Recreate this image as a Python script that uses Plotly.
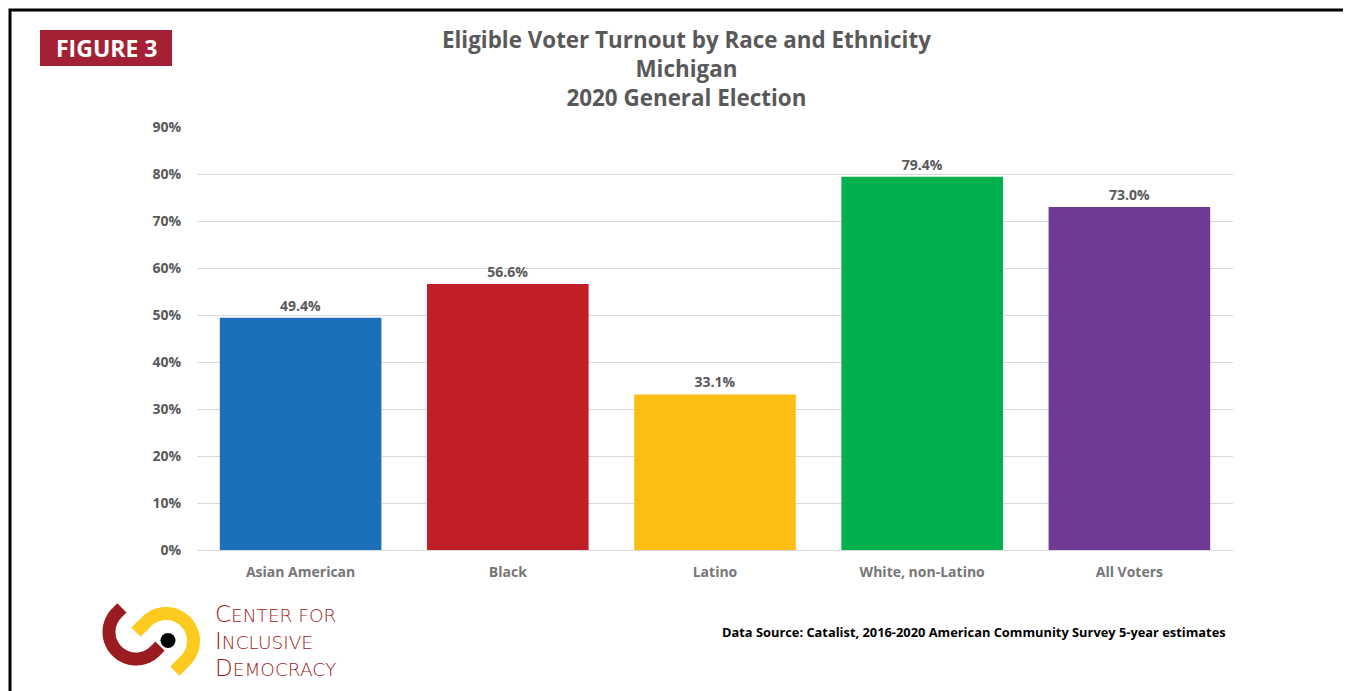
import numpy as np
import plotly.graph_objects as go

categories = ["Asian American", "Black", "Latino", "White, non-Latino", "All Voters"]
turnout = [49.4, 56.6, 33.1, 79.4, 73.0]
bar_colors = ["#1B70B9", "#C01F27", "#FDBE14", "#03B04E", "#6F3996"]
y_ticks = [0, 10, 20, 30, 40, 50, 60, 70, 80, 90]
y_tick_labels = [f"{v}%" for v in y_ticks]

OFF = 8  # default page body margin
W, H = 1351 - OFF, 691 - OFF
# plot area in reference-picture pixels
RL, RR, RT, RB = 197, 1233, 127, 550
L, R, T, B = RL - OFF, RR - OFF, RT - OFF, RB - OFF


def px(x):
    """reference-picture x pixel -> paper coordinate"""
    return (x - OFF - L) / (R - L)


def py(y):
    """reference-picture y pixel -> paper coordinate"""
    return (B - (y - OFF)) / (B - T)


GRAY = "#595959"

fig = go.Figure(go.Bar(
    x=categories, y=turnout,
    marker=dict(color=bar_colors, line=dict(width=0)),
    text=[f"{v:.1f}%" for v in turnout], textposition="outside",
    textfont=dict(family="Open Sans", size=14, color=GRAY, weight="bold"),
    cliponaxis=False, hoverinfo="skip",
))

fig.update_layout(
    width=W, height=H, autosize=False,
    margin=dict(l=L, r=W - R, t=T, b=H - B),
    paper_bgcolor="white", plot_bgcolor="white",
    bargap=0.22, showlegend=False,
    xaxis=dict(showgrid=False, showline=False, ticks="",
               tickfont=dict(family="Open Sans", size=14, color="#767676", weight="bold"),
               ticklabelstandoff=12),
    yaxis=dict(range=[0, 90], tickvals=y_ticks, ticktext=y_tick_labels,
               showgrid=True, gridcolor="#D9D9D9", gridwidth=1,
               zeroline=True, zerolinecolor="#D9D9D9", zerolinewidth=1,
               showline=False, ticks="",
               tickfont=dict(family="Open Sans", size=14, color=GRAY, weight="bold"),
               ticklabelstandoff=15),
)

shapes = []
# outer frame
shapes.append(dict(type="rect", xref="paper", yref="paper",
                   x0=px(10), x1=px(1348), y0=py(10), y1=py(710),
                   line=dict(color="black", width=3), fillcolor="rgba(0,0,0,0)", layer="below"))
# figure badge
shapes.append(dict(type="rect", xref="paper", yref="paper",
                   x0=px(40), x1=px(172), y0=py(30), y1=py(66),
                   line=dict(width=0), fillcolor="#A32035"))


def hook_path(cx, cy, r, a0, a1, arm, n=60):
    """U-shaped stroke: semicircle from angle a0 to a1 plus straight arms at both ends"""
    angs = np.radians(np.linspace(a0, a1, n))
    pts = [(cx + r * np.cos(a), cy + r * np.sin(a)) for a in angs]

    def ext(p, a, sgn):
        tx, ty = -np.sin(a) * sgn, np.cos(a) * sgn
        return (p[0] + tx * arm, p[1] + ty * arm)
    start = ext(pts[0], angs[0], -np.sign(a1 - a0))
    end = ext(pts[-1], angs[-1], np.sign(a1 - a0))
    pts = [start] + pts + [end]
    return "M " + " L ".join(f"{px(x):.5f},{py(y):.5f}" for x, y in pts)


# logo: red hook (opens to upper right), yellow hook (opens to lower left)
shapes.append(dict(type="path", xref="paper", yref="paper",
                   path=hook_path(136, 632, 27, 225, 45, 7),
                   line=dict(color="#9B1C20", width=13)))
shapes.append(dict(type="path", xref="paper", yref="paper",
                   path=hook_path(166, 641, 27.5, 225, 405, 15),
                   line=dict(color="#FDCB1F", width=13)))
shapes.append(dict(type="circle", xref="paper", yref="paper",
                   x0=px(160.5), x1=px(175.5), y0=py(633), y1=py(648),
                   line=dict(width=0), fillcolor="black"))
fig.update_layout(shapes=shapes)

ann = []
ann.append(dict(text="FIGURE 3", x=px(106), y=py(48), xref="paper", yref="paper",
                showarrow=False, xanchor="center", yanchor="middle",
                font=dict(family="Open Sans", size=23, color="white", weight="bold")))
ann.append(dict(text="Eligible Voter Turnout by Race and Ethnicity<br>Michigan<br>2020 General Election",
                x=px(686), y=py(22), xref="paper", yref="paper",
                showarrow=False, xanchor="center", yanchor="top", align="center",
                font=dict(family="Open Sans", size=22.4, color=GRAY, weight="bold")))
ann.append(dict(text="Data Source: Catalist, 2016-2020 American Community Survey 5-year estimates",
                x=px(720), y=py(632), xref="paper", yref="paper",
                showarrow=False, xanchor="left", yanchor="middle",
                font=dict(family="Open Sans", size=12.85, color="black", weight="bold")))
# logo wordmark: one text per line, capitals larger (small-caps look)
logo_lines = [("C", "ENTER FOR", 623), ("I", "NCLUSIVE", 650), ("D", "EMOCRACY", 677)]
for first, rest, base in logo_lines:
    ann.append(dict(text=f"{first}<span style='font-size:18.5px'>{rest}</span>",
                    x=px(214), y=py(base + 5), xref="paper", yref="paper",
                    showarrow=False, xanchor="left", yanchor="bottom", align="left",
                    borderpad=0,
                    font=dict(family="DejaVu Sans", size=23, color="#9B1C20", weight=200)))
fig.update_layout(annotations=ann)

fig.write_html("out.html")
